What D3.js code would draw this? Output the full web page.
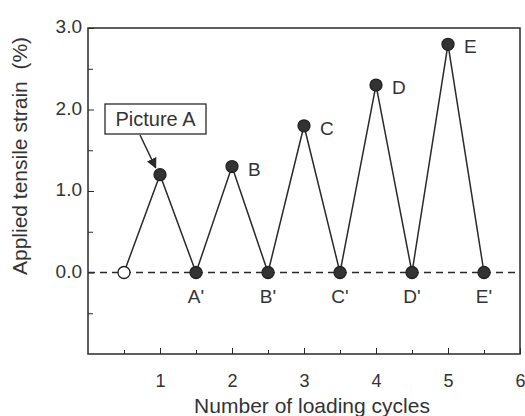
<!DOCTYPE html>
<html>
<head>
<meta charset="utf-8">
<script src="https://cdn.jsdelivr.net/npm/d3@7"></script>
<style>
  body { margin: 0; background: #fff; }
  text { font-family: "Liberation Sans", Arial, sans-serif; fill: #333; }
</style>
</head>
<body>
<div id="chart"></div>
<script>
// cycle positions and strain values
let cycles = [0.5, 1, 1.5, 2, 2.5, 3, 3.5, 4, 4.5, 5, 5.5];
let strain = [0, 1.2, 0, 1.3, 0, 1.8, 0, 2.3, 0, 2.8, 0];
let pointLabels = ["", "", "A'", "B", "B'", "C", "C'", "D", "D'", "E", "E'"];
let xTicks = [1, 2, 3, 4, 5, 6];
let yTicks = [0, 1, 2, 3];

let w = 525, h = 416;
let margin = {top: 28, right: 5, bottom: 62, left: 88};

let svg = d3.select("#chart").append("svg")
    .attr("width", w)
    .attr("height", h);

let x = d3.scaleLinear().domain([0, 6]).range([margin.left, w - margin.right]);
let y = d3.scaleLinear().domain([-1, 3]).range([h - margin.bottom, margin.top]);

let ink = "#2a2a2a";
let tickFont = "18px";

// frame
svg.append("rect")
    .attr("x", x(0)).attr("y", y(3))
    .attr("width", x(6) - x(0)).attr("height", y(-1) - y(3))
    .attr("fill", "none").attr("stroke", ink).attr("stroke-width", 1.5);

// x axis, ticks inward
let xAxis = svg.append("g")
    .attr("transform", "translate(0," + y(-1) + ")")
    .call(d3.axisBottom(x).tickValues(d3.range(0.5, 6.01, 0.5)).tickSize(-6).tickFormat(""));
xAxis.selectAll(".tick line").attr("stroke", ink)
    .attr("y2", function(d) { return Number.isInteger(d) ? -6 : -4; });
xAxis.select(".domain").remove();
xAxis.selectAll(".tick").filter(function(d) { return xTicks.indexOf(d) >= 0; })
    .append("text")
    .attr("y", 33)
    .attr("text-anchor", "middle")
    .style("font-size", tickFont)
    .style("fill", "#333")
    .text(function(d) { return d; });

// y axis, ticks inward
let yAxis = svg.append("g")
    .attr("transform", "translate(" + x(0) + ",0)")
    .call(d3.axisLeft(y).tickValues(d3.range(-0.5, 3.01, 0.5)).tickSize(-6).tickFormat(""));
yAxis.selectAll(".tick line").attr("stroke", ink)
    .attr("x2", function(d) { return Number.isInteger(d) ? 6 : 5; });
yAxis.select(".domain").remove();
yAxis.selectAll(".tick").filter(function(d) { return yTicks.indexOf(d) >= 0; })
    .append("text")
    .attr("x", -6)
    .attr("y", -1)
    .attr("dy", "0.3em")
    .attr("text-anchor", "end")
    .style("font-size", "19px")
    .style("fill", "#333")
    .text(function(d) { return d3.format(".1f")(d); });

// axis titles
svg.append("text")
    .attr("text-anchor", "middle")
    .attr("transform", "translate(" + ((x(0) + x(6)) / 2 + 8) + "," + (h - 3) + ")")
    .style("font-size", "21px")
    .text("Number of loading cycles");

svg.append("text")
    .attr("text-anchor", "middle")
    .attr("transform", "translate(27,156) rotate(-90)")
    .style("font-size", "21px")
    .attr("xml:space", "preserve")
    .text("Applied tensile strain  (%)");

// zero reference line
svg.append("line")
    .attr("x1", x(0)).attr("x2", x(6))
    .attr("y1", y(0)).attr("y2", y(0))
    .attr("stroke", ink).attr("stroke-width", 1.5)
    .attr("stroke-dasharray", "7,5");

// zigzag
let line = d3.line()
    .x(function(d, i) { return x(cycles[i]); })
    .y(function(d) { return y(d); });

svg.append("path")
    .datum(strain)
    .attr("d", line)
    .attr("fill", "none")
    .attr("stroke", ink)
    .attr("stroke-width", 1.5);

// markers
svg.selectAll("circle.pt")
    .data(strain)
    .enter().append("circle")
    .attr("class", "pt")
    .attr("cx", function(d, i) { return x(cycles[i]); })
    .attr("cy", function(d) { return y(d); })
    .attr("r", 6)
    .attr("fill", function(d, i) { return i == 0 ? "#fff" : "#333"; })
    .attr("stroke", "#222")
    .attr("stroke-width", 1.3);

// point labels: peaks to the right, troughs below
svg.selectAll("text.lbl")
    .data(strain)
    .enter().append("text")
    .attr("class", "lbl")
    .attr("x", function(d, i) { return d > 0 ? x(cycles[i]) + 16 : x(cycles[i]); })
    .attr("y", function(d) { return d > 0 ? y(d) + 9 : y(d) + 30; })
    .attr("text-anchor", function(d) { return d > 0 ? "start" : "middle"; })
    .style("font-size", "19px")
    .text(function(d, i) { return pointLabels[i]; });

// "Picture A" callout
let boxX = 105, boxY = 104;
svg.append("rect")
    .attr("x", boxX).attr("y", boxY)
    .attr("width", 101).attr("height", 30)
    .attr("fill", "#fff").attr("stroke", ink).attr("stroke-width", 1.3);
svg.append("text")
    .attr("x", boxX + 50.5).attr("y", boxY + 22)
    .attr("text-anchor", "middle")
    .style("font-size", "20px")
    .text("Picture A");

svg.append("defs").append("marker")
    .attr("id", "arrow")
    .attr("viewBox", "0 0 10 10")
    .attr("refX", 9).attr("refY", 5)
    .attr("markerWidth", 7).attr("markerHeight", 7)
    .attr("orient", "auto")
    .append("path")
    .attr("d", "M0,0 L10,5 L0,10 Z")
    .attr("fill", ink);

svg.append("line")
    .attr("x1", 140).attr("y1", boxY + 31)
    .attr("x2", x(0.94)).attr("y2", y(1.2) - 7)
    .attr("stroke", ink).attr("stroke-width", 1.5)
    .attr("marker-end", "url(#arrow)");
</script>
</body>
</html>
